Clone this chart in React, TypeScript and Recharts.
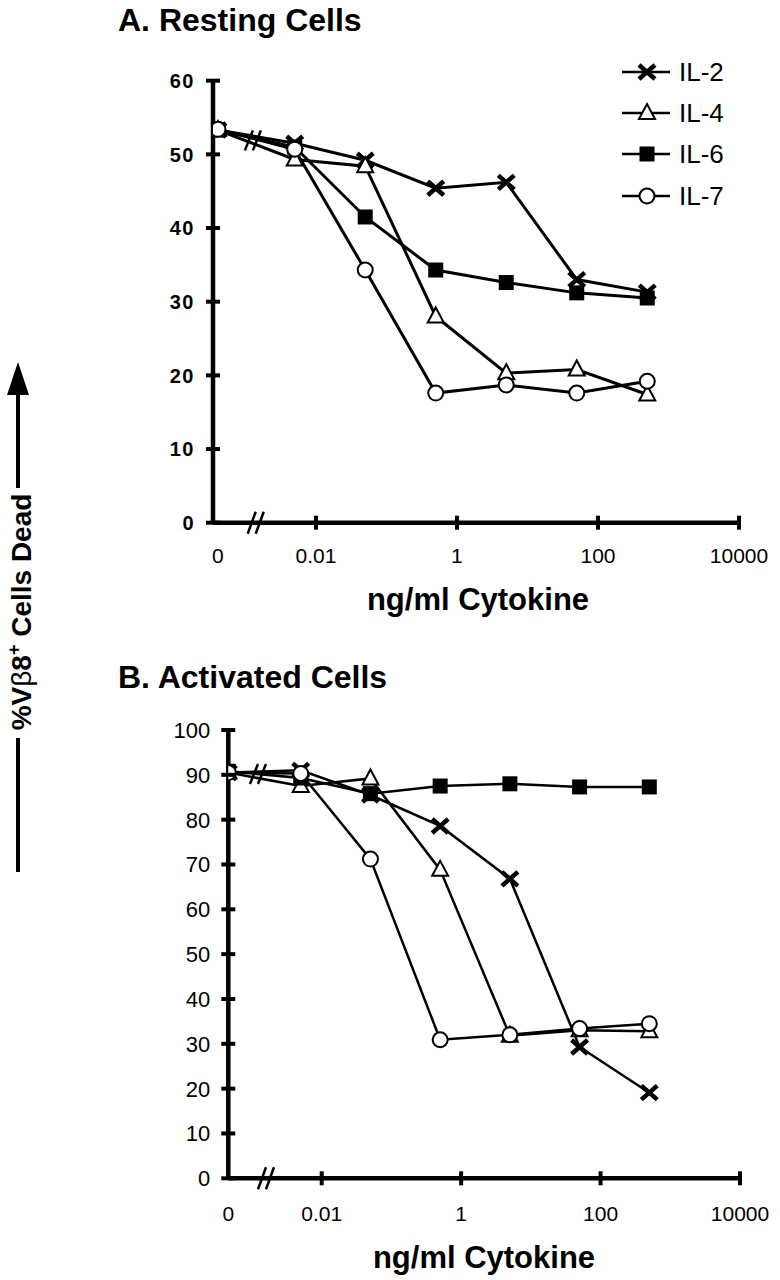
import { LineChart, Line, XAxis, YAxis, Legend, ReferenceDot } from "recharts";

const FONT = "'Liberation Sans', Arial, Helvetica, sans-serif";

// cytokine doses in ng/ml, 0 = no cytokine (plotted left of the axis break)
const DOSES = [0, 0.005, 0.05, 0.5, 5, 50, 500];
const X_TICK_DOSES = [0, 0.01, 1, 100, 10000];
const X_TICK_LABELS = ["0", "0.01", "1", "100", "10000"];
const Y_TICKS_RESTING = [0, 10, 20, 30, 40, 50, 60];
const Y_TICKS_ACTIVATED = [0, 10, 20, 30, 40, 50, 60, 70, 80, 90, 100];

// A. Resting cells, % Vb8+ cells dead
const RESTING_IL2 = [53.3, 51.5, 49.2, 45.4, 46.2, 33.0, 31.3];
const RESTING_IL4 = [53.3, 49.3, 48.4, 28.0, 20.3, 20.8, 17.4];
const RESTING_IL6 = [53.3, 51.0, 41.5, 34.3, 32.6, 31.2, 30.5];
const RESTING_IL7 = [53.4, 50.7, 34.3, 17.6, 18.7, 17.6, 19.2];

// B. Activated cells
const ACTIVATED_IL2 = [90.5, 91.0, 85.5, 78.6, 66.8, 29.3, 19.1];
const ACTIVATED_IL4 = [90.5, 87.5, 89.2, 68.8, 31.8, 33.0, 32.8];
const ACTIVATED_IL6 = [90.8, 89.3, 85.8, 87.5, 88.0, 87.3, 87.3];
const ACTIVATED_IL7 = [90.5, 90.3, 71.2, 30.9, 32.0, 33.4, 34.5];

type MarkerKind = "cross" | "triangle" | "square" | "circle";

const SERIES: { key: string; name: string; marker: MarkerKind }[] = [
  { key: "il2", name: "IL-2", marker: "cross" },
  { key: "il4", name: "IL-4", marker: "triangle" },
  { key: "il6", name: "IL-6", marker: "square" },
  { key: "il7", name: "IL-7", marker: "circle" },
];

// x axis works in log10(dose); the zero dose sits at a fixed spot before the break
const doseToPos = (dose: number, zeroPos: number) => (dose === 0 ? zeroPos : Math.log10(dose));

function buildRows(zeroPos: number, il2: number[], il4: number[], il6: number[], il7: number[]) {
  return DOSES.map((dose, i) => ({
    pos: doseToPos(dose, zeroPos),
    il2: il2[i],
    il4: il4[i],
    il6: il6[i],
    il7: il7[i],
  }));
}

function Marker({ kind, cx, cy }: { kind: MarkerKind; cx: number; cy: number }) {
  if (kind === "cross") {
    return (
      <path
        d={`M${cx - 8},${cy - 7}L${cx + 8},${cy + 7}M${cx - 8},${cy + 7}L${cx + 8},${cy - 7}`}
        stroke="#000"
        strokeWidth={4.5}
        fill="none"
      />
    );
  }
  if (kind === "triangle") {
    return (
      <path
        d={`M${cx},${cy - 9}L${cx + 8},${cy + 6}L${cx - 8},${cy + 6}Z`}
        fill="#fff"
        stroke="#000"
        strokeWidth={2}
      />
    );
  }
  if (kind === "square") {
    return <rect x={cx - 7.5} y={cy - 7.5} width={15} height={15} fill="#000" />;
  }
  return <circle cx={cx} cy={cy} r={7.5} fill="#fff" stroke="#000" strokeWidth={2} />;
}

function BreakMark({ cx, cy, half }: { cx: number; cy: number; half: number }) {
  return (
    <g stroke="#000" strokeWidth={2.5}>
      <line x1={cx - 9} y1={cy + half} x2={cx - 1} y2={cy - half} />
      <line x1={cx - 1} y1={cy + half} x2={cx + 7} y2={cy - half} />
    </g>
  );
}

const renderLegend = (props: any) => (
  <div style={{ fontFamily: FONT }}>
    {(props.payload ?? []).map((entry: any) => {
      const s = SERIES.find((x) => x.key === entry.dataKey) ?? SERIES[0];
      return (
        <div key={s.key} style={{ display: "flex", alignItems: "center", height: 41.3 }}>
          <svg width={57} height={24}>
            <line x1={0} x2={48} y1={12} y2={12} stroke="#000" strokeWidth={2.5} />
            <Marker kind={s.marker} cx={25} cy={12} />
          </svg>
          <span style={{ fontSize: 26, lineHeight: 1, color: "#000" }}>{entry.value}</span>
        </div>
      );
    })}
  </div>
);

interface PanelProps {
  rows: ReturnType<typeof buildRows>;
  top: number;
  height: number;
  plotTop: number;
  plotBottom: number;
  axisX: number;
  rightMargin: number;
  axisMin: number;
  zeroPos: number;
  yMax: number;
  yTicks: number[];
  yBold: boolean;
  yFont: number;
  xLabelGap: number;
  axisBreak: number;
  lineBreak: { x: number; y: number };
  lineWidth: number;
  legend: boolean;
}

function Panel(p: PanelProps) {
  const xAxisHeight = 60;
  const xTicks = X_TICK_DOSES.map((d) => doseToPos(d, p.zeroPos));
  return (
    <div style={{ position: "absolute", left: 0, top: p.top }}>
      <LineChart
        width={780}
        height={p.height}
        data={p.rows}
        margin={{ top: p.plotTop, right: p.rightMargin, left: 0, bottom: p.height - p.plotBottom - xAxisHeight }}
      >
        <XAxis
          dataKey="pos"
          type="number"
          domain={[p.axisMin, 4]}
          ticks={xTicks}
          allowDataOverflow
          height={xAxisHeight}
          axisLine={{ stroke: "#000", strokeWidth: 4.5 }}
          tickLine={false}
          tickSize={0}
          tickMargin={0}
          interval={0}
          tick={(t: any) => (
            <g key={`xt-${t.index}`}>
              {t.index > 0 && <line x1={t.x} x2={t.x} y1={t.y - 7} y2={t.y + 7} stroke="#000" strokeWidth={4} />}
              <text x={t.x} y={t.y + p.xLabelGap} textAnchor="middle" fontFamily={FONT} fontSize={21} fill="#000">
                {X_TICK_LABELS[t.index]}
              </text>
            </g>
          )}
        />
        <YAxis
          type="number"
          domain={[0, p.yMax]}
          ticks={p.yTicks}
          width={p.axisX}
          interval={0}
          axisLine={{ stroke: "#000", strokeWidth: 4.5 }}
          tickLine={false}
          tickSize={0}
          tickMargin={0}
          tick={(t: any) => (
            <g key={`yt-${t.index}`}>
              <line x1={t.x - 7} x2={t.x + 7} y1={t.y} y2={t.y} stroke="#000" strokeWidth={4} />
              <text
                x={t.x - 18}
                y={t.y + p.yFont * 0.36}
                textAnchor="end"
                fontFamily={FONT}
                fontSize={p.yFont}
                fontWeight={p.yBold ? 700 : 400}
                letterSpacing={p.yBold ? 1.5 : 0}
                fill="#000"
              >
                {t.payload.value}
              </text>
            </g>
          )}
        />
        {SERIES.map((s) => (
          <Line
            key={s.key}
            type="linear"
            dataKey={s.key}
            name={s.name}
            stroke="#000"
            strokeWidth={p.lineWidth}
            isAnimationActive={false}
            activeDot={false}
            dot={(d: any) => <Marker key={`${s.key}-${d.index}`} kind={s.marker} cx={d.cx} cy={d.cy} />}
          />
        ))}
        <ReferenceDot
          x={p.axisBreak}
          y={0}
          r={0}
          shape={(d: any) => <BreakMark cx={d.cx} cy={d.cy} half={11} />}
        />
        <ReferenceDot
          x={p.lineBreak.x}
          y={p.lineBreak.y}
          r={0}
          shape={(d: any) => <BreakMark cx={d.cx} cy={d.cy} half={10} />}
        />
        {p.legend && (
          <Legend
            layout="vertical"
            align="center"
            verticalAlign="middle"
            wrapperStyle={{ left: 622, top: 51, width: 140 }}
            content={renderLegend}
          />
        )}
      </LineChart>
    </div>
  );
}

const RESTING_ZERO = -3.39;
const ACTIVATED_ZERO = -3.34;

export default function App() {
  const resting = buildRows(RESTING_ZERO, RESTING_IL2, RESTING_IL4, RESTING_IL6, RESTING_IL7);
  const activated = buildRows(ACTIVATED_ZERO, ACTIVATED_IL2, ACTIVATED_IL4, ACTIVATED_IL6, ACTIVATED_IL7);

  return (
    <div style={{ position: "absolute", left: 0, top: 0, width: 780, height: 1280, background: "#fff", fontFamily: FONT }}>
      <Panel
        rows={resting}
        top={0}
        height={640}
        plotTop={80.7}
        plotBottom={522.7}
        axisX={213}
        rightMargin={41}
        axisMin={-3.46}
        zeroPos={RESTING_ZERO}
        yMax={60}
        yTicks={Y_TICKS_RESTING}
        yBold
        yFont={20}
        xLabelGap={40}
        axisBreak={-2.84}
        lineBreak={{ x: -2.88, y: 51.9 }}
        lineWidth={3}
        legend
      />
      <Panel
        rows={activated}
        top={640}
        height={640}
        plotTop={90}
        plotBottom={538.3}
        axisX={228.3}
        rightMargin={40}
        axisMin={-3.34}
        zeroPos={ACTIVATED_ZERO}
        yMax={100}
        yTicks={Y_TICKS_ACTIVATED}
        yBold={false}
        yFont={22}
        xLabelGap={43}
        axisBreak={-2.785}
        lineBreak={{ x: -2.9, y: 90.2 }}
        lineWidth={2.5}
        legend={false}
      />
      <svg
        width={780}
        height={1280}
        style={{ position: "absolute", left: 0, top: 0, pointerEvents: "none" }}
        fontFamily={FONT}
      >
        <text x={118} y={31} fontSize={32} fontWeight={700}>A. Resting Cells</text>
        <text x={118} y={688} fontSize={32} fontWeight={700}>B. Activated Cells</text>
        <text x={478} y={610} fontSize={31} fontWeight={700} textAnchor="middle">ng/ml Cytokine</text>
        <text x={484} y={1268} fontSize={31} fontWeight={700} textAnchor="middle">ng/ml Cytokine</text>
        <g transform="translate(31, 612) rotate(-90)">
          <text x={0} y={0} fontSize={28} fontWeight={700} textAnchor="middle">
            %V<tspan fontWeight={400}>β</tspan>8<tspan fontSize={18} dy={-11}>+</tspan>
            <tspan dy={11}> Cells Dead</tspan>
          </text>
        </g>
        <line x1={18} x2={18} y1={488} y2={390} stroke="#000" strokeWidth={4} />
        <polygon points="18,362 7,395 29,395" fill="#000" />
        <line x1={18} x2={18} y1={738} y2={872} stroke="#000" strokeWidth={4} />
      </svg>
    </div>
  );
}
